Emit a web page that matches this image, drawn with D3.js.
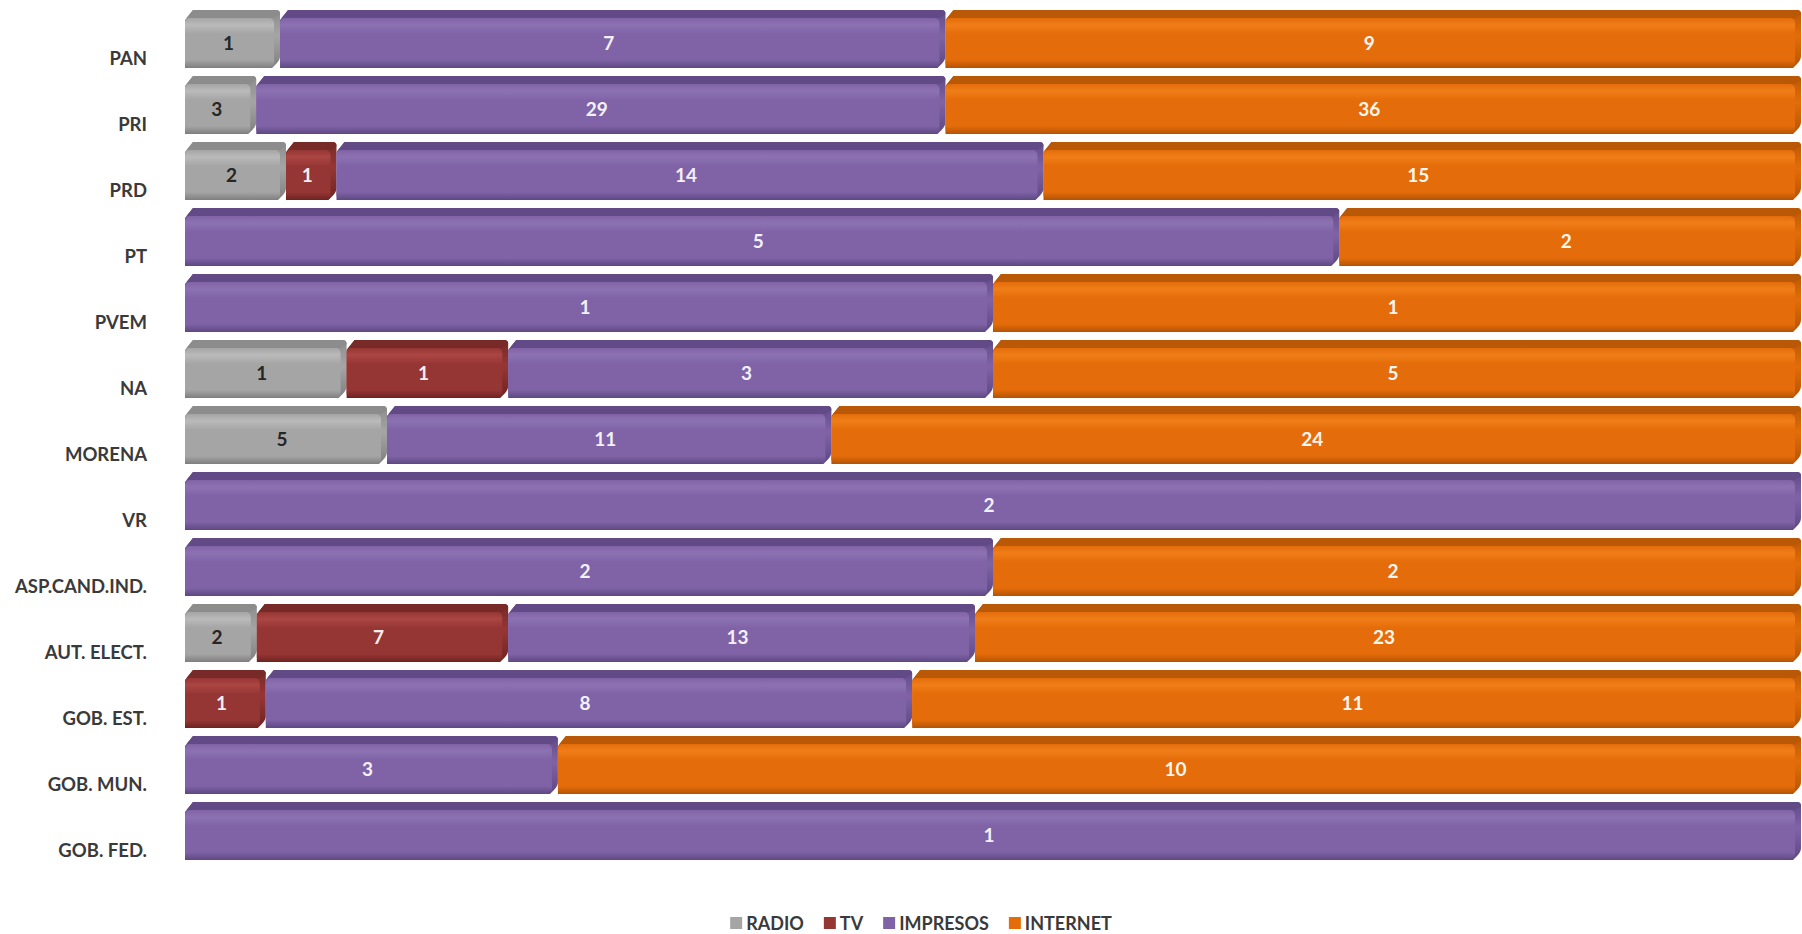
<!DOCTYPE html>
<html><head><meta charset="utf-8">
<script src="https://cdn.jsdelivr.net/npm/d3@7"></script>
<style>
html,body{margin:0;padding:0;background:#fff;}
svg{display:block;}
text{font-family:Lato,"Open Sans",sans-serif;font-weight:700;}
</style></head>
<body>
<svg id="chart" width="1802" height="934"></svg>
<script>
const categories = ["PAN","PRI","PRD","PT","PVEM","NA","MORENA","VR","ASP.CAND.IND.","AUT. ELECT.","GOB. EST.","GOB. MUN.","GOB. FED."];
const seriesNames = ["RADIO","TV","IMPRESOS","INTERNET"];
const radio    = [1, 3, 2, 0, 0, 1, 5, 0, 0, 2, 0, 0, 0];
const tv       = [0, 0, 1, 0, 0, 1, 0, 0, 0, 7, 1, 0, 0];
const impresos = [7,29,14, 5, 1, 3,11, 2, 2,13, 8, 3, 1];
const internet = [9,36,15, 2, 1, 5,24, 0, 2,23,11,10, 0];

const palette = {
  RADIO:    {front:"#a5a5a5", light:"#bababa", dark:"#7f7f7f", top:"#8c8c8c", label:"#262626"},
  TV:       {front:"#963634", light:"#aa4643", dark:"#6e2321", top:"#772a28", label:"#f7eeee"},
  IMPRESOS: {front:"#7f63a6", light:"#8d72b3", dark:"#5e4883", top:"#624a87", label:"#f3f0f8"},
  INTERNET: {front:"#e46c0a", light:"#f07e18", dark:"#b45406", top:"#b95806", label:"#fff6ee"}
};

const rows = categories.map((c,i)=>({cat:c, RADIO:radio[i], TV:tv[i], IMPRESOS:impresos[i], INTERNET:internet[i]}));
const stack = d3.stack().keys(seriesNames).offset(d3.stackOffsetExpand);
const layers = stack(rows);

const svg = d3.select("#chart");
const x = d3.scaleLinear().domain([0,1]).range([185, 1801]);
const y = d3.scaleBand().domain(categories).range([6, 864]).paddingInner(8/66).paddingOuter(4/66);
const D = 8; // bevel depth

const defs = svg.append("defs");
seriesNames.forEach(k=>{
  const p = palette[k];
  const g = defs.append("linearGradient").attr("id","f_"+k).attr("x1",0).attr("y1",0).attr("x2",0).attr("y2",1);
  g.append("stop").attr("offset","0%").attr("stop-color",p.front);
  g.append("stop").attr("offset","14%").attr("stop-color",p.light);
  g.append("stop").attr("offset","32%").attr("stop-color",p.front);
  g.append("stop").attr("offset","84%").attr("stop-color",p.front);
  g.append("stop").attr("offset","100%").attr("stop-color",p.dark);
  const s = defs.append("linearGradient").attr("id","s_"+k).attr("x1",0).attr("y1",0).attr("x2",0).attr("y2",1);
  s.append("stop").attr("offset","0%").attr("stop-color",p.top);
  s.append("stop").attr("offset","45%").attr("stop-color",p.front);
  s.append("stop").attr("offset","100%").attr("stop-color",p.dark);
});

const gBars = svg.append("g");
const segs = [];
layers.forEach(layer=>{
  layer.forEach((d,i)=>{
    if (d[1]-d[0] <= 0) return;
    segs.push({key:layer.key, cat:categories[i], x0:x(d[0]), x1:x(d[1]), val:d.data[layer.key]});
  });
});
segs.sort((a,b)=> categories.indexOf(a.cat)-categories.indexOf(b.cat) || a.x0-b.x0);
segs.forEach(s=>{
  const p = palette[s.key];
  const y0 = y(s.cat), y1 = y0 + y.bandwidth();
  const g = gBars.append("g");
  const r = 4;
  g.append("path").attr("d",
    `M${s.x0},${y0+D+2} L${s.x0+D},${y0} L${s.x1-r},${y0} Q${s.x1},${y0} ${s.x1},${y0+r} ` +
    `L${s.x1},${y1-D-r} Q${s.x1},${y1-D} ${s.x1-r},${y1-D+r} L${s.x1-D},${y1} L${s.x0},${y1} Z`)
    .attr("fill","url(#s_"+s.key+")");
  g.append("path").attr("d",`M${s.x0},${y0+D+2} L${s.x0+D},${y0} L${s.x1-r},${y0} Q${s.x1},${y0} ${s.x1},${y0+r} L${s.x1-D+2},${y0+D} L${s.x0+2},${y0+D} Z`)
    .attr("fill",p.top);
  g.append("rect").attr("x",s.x0).attr("y",y0+D).attr("width",Math.max(0,s.x1-D+2-s.x0)).attr("height",y1-y0-D)
    .attr("rx",5).attr("fill","url(#f_"+s.key+")");
  g.append("text").attr("x",(s.x0+s.x1-D)/2).attr("y",(y0+D+y1)/2 - 1)
    .attr("text-anchor","middle").attr("dominant-baseline","central")
    .attr("font-size",19).attr("fill",p.label).text(s.val);
});

svg.append("g").selectAll("text").data(categories).join("text")
  .attr("x",147).attr("y",d=>y(d)+48).attr("text-anchor","end").attr("dominant-baseline","central")
  .attr("font-size",18.5).attr("fill","#3a3a3a").text(d=>d);

const leg = svg.append("g");
let cx = 0;
seriesNames.forEach(k=>{
  const it = leg.append("g").attr("transform",`translate(${cx},0)`);
  it.append("rect").attr("x",0).attr("y",-6).attr("width",12).attr("height",12).attr("fill",palette[k].front);
  const t = it.append("text").attr("x",16).attr("y",0).attr("dominant-baseline","central")
    .attr("font-size",18).attr("fill","#3a3a3a").text(k);
  const w = t.node().getComputedTextLength();
  cx += 16 + w + 20;
});
const totalW = cx - 20;
leg.attr("transform",`translate(${921 - totalW/2},923)`);
</script>
</body></html>
